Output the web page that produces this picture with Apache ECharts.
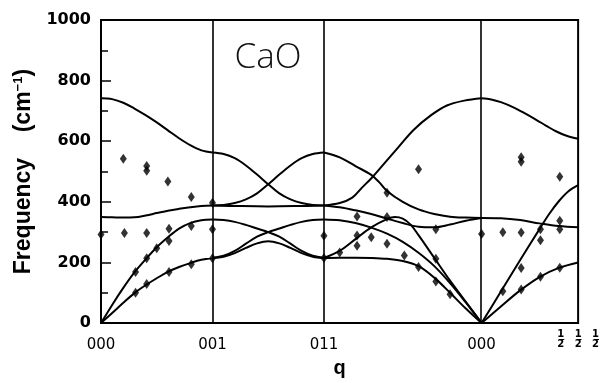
<!DOCTYPE html>
<html>
<head>
<meta charset="utf-8">
<script src="https://cdn.jsdelivr.net/npm/echarts@6/dist/echarts.min.js"></script>
<style>
  html, body { margin: 0; padding: 0; background: #fff; }
  #chart { width: 602px; height: 383px; }
</style>
</head>
<body>
<div id="chart"></div>
<script>
// Phonon dispersion of CaO along 000-001-011-000-½½½.
// Path segments (reciprocal-space distance): Γ-X, X-X', X'-Γ (Σ), Γ-L (Λ)
const segStart = [0, 1, 2, 2 + Math.SQRT2];
const segLength = [1, 1, Math.SQRT2, Math.sqrt(3) / 2];
const pathEnd = segStart[3] + segLength[3];

const tickPositions = [0, 1, 2, 2 + Math.SQRT2];
const tickLabels = ['000', '001', '011', '000'];

// Calculated branches, [fraction along segment, frequency cm^-1]
// Γ → X (001)
const deltaLO = [[0,742],[0.1,739],[0.2,727],[0.3,708],[0.4,686],[0.5,662],[0.6,636],[0.7,610],[0.8,587],[0.9,570],[1,563]];
const deltaTO = [[0,350],[0.1,349],[0.2,348],[0.3,349],[0.4,355],[0.5,363],[0.6,371],[0.7,377],[0.8,382],[0.9,386],[1,388]];
const deltaLA = [[0,0],[0.1,60],[0.2,116],[0.3,167],[0.4,210],[0.5,250],[0.6,283],[0.7,312],[0.8,330],[0.9,339],[1,342]];
const deltaTA = [[0,0],[0.1,33],[0.2,67],[0.3,99],[0.4,125],[0.5,148],[0.6,169],[0.7,185],[0.8,198],[0.9,209],[1,215]];

// 001 → 011
const zOptic1 = [[0,563],[0.1,558],[0.2,544],[0.3,520],[0.4,490],[0.5,458],[0.6,428],[0.7,408],[0.8,396],[0.9,390],[1,388]];
const zOptic2 = [[0,388],[0.1,390],[0.2,396],[0.3,408],[0.4,428],[0.5,458],[0.6,490],[0.7,520],[0.8,544],[0.9,558],[1,563]];
const zOptic3 = [[0,388],[0.25,386],[0.5,385],[0.75,386],[1,388]];
const zAcoustic1 = [[0,342],[0.1,340],[0.2,334],[0.3,324],[0.4,312],[0.5,300],[0.6,285],[0.7,262],[0.8,238],[0.9,222],[1,215]];
const zAcoustic2 = [[0,215],[0.1,222],[0.2,238],[0.3,262],[0.4,285],[0.5,300],[0.6,312],[0.7,324],[0.8,334],[0.9,340],[1,342]];
const zAcoustic3 = [[0,215],[0.1,219],[0.2,231],[0.3,248],[0.4,263],[0.5,270],[0.6,263],[0.7,248],[0.8,231],[0.9,219],[1,215]];

// 011 → 000
const sigmaOptic1 = [[0,563],[0.1,547],[0.2,518],[0.3,489],[0.35,465],[0.4,436],[0.5,400],[0.6,375],[0.7,360],[0.8,351],[0.9,348],[1,347]];
const sigmaOptic2 = [[0,388],[0.1,396],[0.18,414],[0.24,446],[0.31,483],[0.39,531],[0.47,579],[0.57,638],[0.68,686],[0.78,718],[0.89,734],[1,742]];
const sigmaOptic3 = [[0,388],[0.1,382],[0.2,372],[0.3,360],[0.4,345],[0.5,330],[0.6,318],[0.7,316],[0.8,325],[0.9,338],[1,347]];
const sigmaAcoustic1 = [[0,342],[0.1,339],[0.2,330],[0.3,315],[0.4,295],[0.5,268],[0.6,232],[0.7,188],[0.8,132],[0.9,68],[1,0]];
const sigmaAcoustic2 = [[0,215],[0.1,238],[0.2,277],[0.3,316],[0.4,343],[0.45,350],[0.5,345],[0.55,325],[0.6,290],[0.7,215],[0.8,140],[0.9,70],[1,0]];
const sigmaAcoustic3 = [[0,215],[0.1,216],[0.2,216],[0.3,215],[0.4,212],[0.5,205],[0.6,188],[0.7,150],[0.8,100],[0.9,48],[1,0]];

// 000 → ½½½
const lambdaLO = [[0,742],[0.1,738],[0.2,729],[0.33,712],[0.45,692],[0.57,670],[0.67,651],[0.77,633],[0.88,618],[1,608]];
const lambdaTO = [[0,347],[0.2,346],[0.4,340],[0.6,329],[0.8,320],[1,316]];
const lambdaLA = [[0,0],[0.2,104],[0.4,208],[0.6,310],[0.7,360],[0.8,402],[0.9,435],[1,455]];
const lambdaTA = [[0,0],[0.2,55],[0.4,108],[0.6,152],[0.8,182],[1,200]];

// Measured frequencies (neutron scattering), [fraction along segment, cm^-1]
const pointsDelta = [[0,292],[0.2,542],[0.41,518],[0.41,503],[0.6,467],[0.81,416],[1,397],
  [0.21,297],[0.41,297],[0.61,311],[0.81,320],[1,310],[0.61,271],[0.5,247],[0.41,214],
  [0.31,169],[0.31,100],[0.41,129],[0.61,169],[0.81,194],[1,214]];
const pointsSigma = [[0,288],[0,215],[0.1,233],[0.21,352],[0.21,289],[0.21,255],[0.3,283],
  [0.4,350],[0.4,262],[0.4,430],[0.51,223],[0.6,508],[0.6,185],[0.71,310],[0.71,212],
  [0.71,137],[0.8,95],[1,294]];
const pointsLambda = [[0.22,300],[0.41,299],[0.41,547],[0.41,532],[0.81,483],[0.81,338],
  [0.81,310],[0.61,310],[0.61,273],[0.41,182],[0.22,105],[0.41,111],[0.61,153],[0.81,183]];

const branches = [
  [0, deltaLO], [0, deltaTO], [0, deltaLA], [0, deltaTA],
  [1, zOptic1], [1, zOptic2], [1, zOptic3], [1, zAcoustic1], [1, zAcoustic2], [1, zAcoustic3],
  [2, sigmaOptic1], [2, sigmaOptic2], [2, sigmaOptic3], [2, sigmaAcoustic1], [2, sigmaAcoustic2], [2, sigmaAcoustic3],
  [3, lambdaLO], [3, lambdaTO], [3, lambdaLA], [3, lambdaTA]
];
const pointSets = [[0, pointsDelta], [2, pointsSigma], [3, pointsLambda]];

function onPath(seg, pts) {
  return pts.map(([f, v]) => [segStart[seg] + f * segLength[seg], v]);
}

const series = branches.map(([seg, pts]) => ({
  type: 'line',
  data: onPath(seg, pts),
  showSymbol: false,
  smooth: 0.35,
  silent: true,
  lineStyle: { color: '#000', width: 2 },
  z: 3
}));

series.push({
  type: 'scatter',
  data: pointSets.flatMap(([seg, pts]) => onPath(seg, pts)),
  symbol: 'diamond',
  symbolSize: [7, 10],
  itemStyle: { color: '#000' },
  silent: true,
  z: 4
});

// vertical lines at the symmetry points
series.push({
  type: 'line',
  data: [],
  silent: true,
  markLine: {
    silent: true,
    symbol: 'none',
    label: { show: false },
    lineStyle: { color: '#000', width: 1.6, type: 'solid' },
    data: tickPositions.slice(1).map(x => ({ xAxis: x }))
  }
});

const chart = echarts.init(document.getElementById('chart'), null, { renderer: 'canvas' });
chart.setOption({
  animation: false,
  backgroundColor: '#fff',
  grid: { left: 101, right: 20, top: 20, bottom: 50, show: true, borderColor: '#000', borderWidth: 2 },
  graphic: [{
    type: 'text',
    x: 268, y: 58,
    style: {
      text: 'CaO', align: 'center', verticalAlign: 'middle',
      font: '300 35px "Open Sans"', fill: '#111'
    }
  }],
  xAxis: [{
    type: 'value', min: 0, max: pathEnd,
    axisLine: { show: false },
    axisTick: { show: false },
    splitLine: { show: false },
    axisLabel: {
      customValues: tickPositions,
      margin: 15,
      color: '#000',
      fontFamily: 'DejaVu Sans', fontSize: 15,
      formatter: v => tickLabels[tickPositions.findIndex(t => Math.abs(t - v) < 1e-6)]
    },
    name: 'q', nameLocation: 'middle', nameGap: 29,
    nameTextStyle: { fontFamily: 'Liberation Sans', fontWeight: 'bold', fontSize: 20, color: '#000' }
  }, {
    type: 'value', min: 0, max: pathEnd, position: 'bottom',
    axisLine: { show: false }, axisTick: { show: false }, splitLine: { show: false },
    axisLabel: {
      customValues: [pathEnd],
      margin: 6,
      formatter: () => '{n|1\u0332   1\u0332   1\u0332}\n{d|2   2   2}',
      rich: {
        n: { fontFamily: 'DejaVu Sans', fontWeight: 'bold', fontSize: 10, lineHeight: 10, color: '#000' },
        d: { fontFamily: 'DejaVu Sans', fontWeight: 'bold', fontSize: 10, lineHeight: 11, color: '#000' }
      }
    }
  }],
  yAxis: {
    type: 'value', min: 0, max: 1000, interval: 200,
    axisLine: { show: true, lineStyle: { color: '#000', width: 2 } },
    axisTick: { show: true, inside: true, length: 10, lineStyle: { color: '#000', width: 1.5 } },
    minorTick: { show: true, splitNumber: 2, length: 7, lineStyle: { color: '#000', width: 1.5 } },
    splitLine: { show: false },
    axisLabel: {
      color: '#000', fontFamily: 'DejaVu Sans', fontWeight: 'bold', fontSize: 16, margin: 10,
      formatter: v => String(v)
    },
    name: 'Frequency    (cm{sup|\u22121})',
    nameLocation: 'middle', nameGap: 51, nameRotate: 90,
    nameTextStyle: {
      fontFamily: 'Liberation Sans', fontWeight: 'bold', fontSize: 23, color: '#000',
      rich: {
        sup: { fontFamily: 'Liberation Sans', fontWeight: 'bold', fontSize: 13, verticalAlign: 'top', color: '#000', padding: [0, 0, 12, 0] }
      }
    }
  },
  series
});
</script>
</body>
</html>
